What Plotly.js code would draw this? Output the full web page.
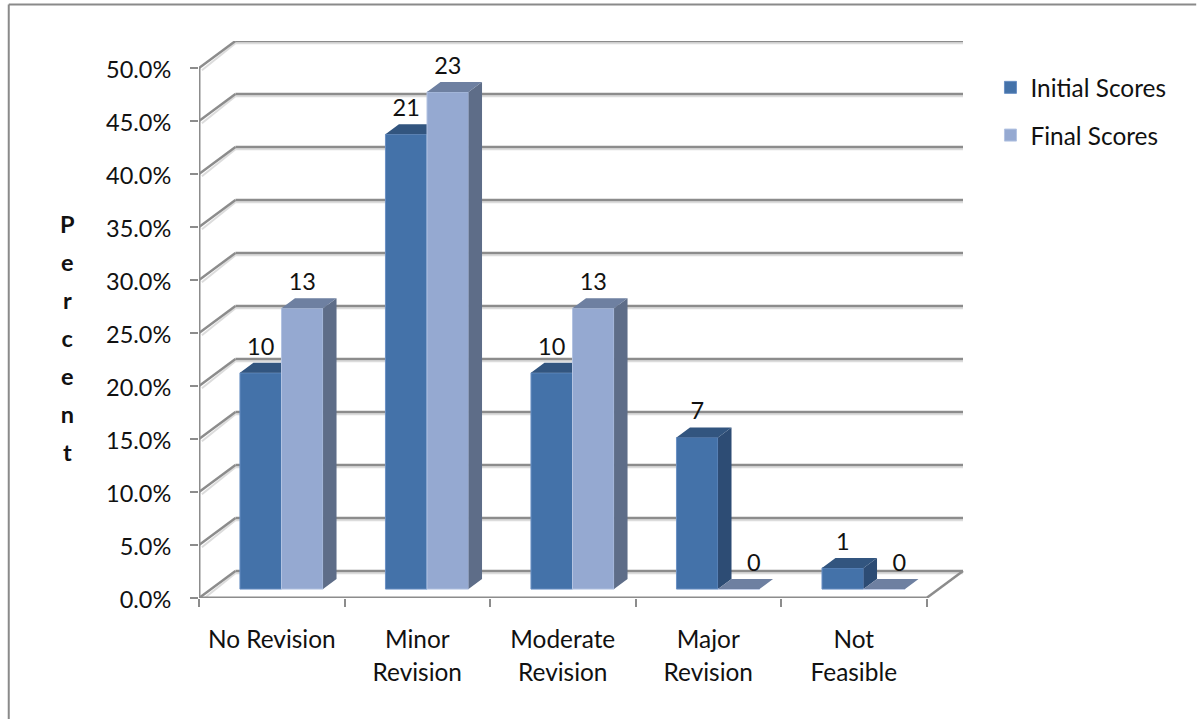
<!DOCTYPE html>
<html>
<head>
<meta charset="utf-8">
<script src="https://cdn.plot.ly/plotly-3.0.1.min.js"></script>
<style>html,body{margin:0;padding:0;background:#fff;overflow:hidden}#chart{width:1197px;height:719px}</style>
</head>
<body>
<div id="chart"></div>
<script>
const categories = ['No Revision', 'Minor<br>Revision', 'Moderate<br>Revision', 'Major<br>Revision', 'Not<br>Feasible'];
const seriesNames = ['Initial Scores', 'Final Scores'];
const initialPercent = [20.4, 42.9, 20.4, 14.3, 2.0];
const finalPercent = [26.5, 46.9, 26.5, 0, 0];
const initialCounts = [10, 21, 10, 7, 1];
const finalCounts = [13, 23, 13, 0, 0];
const yTicks = [0, 5, 10, 15, 20, 25, 30, 35, 40, 45, 50];
const axisTitleLetters = ['P', 'e', 'r', 'c', 'e', 'n', 't'];

const FONT = 'Lato, Carlito, sans-serif';
const FS = 23.5, FS_CAT = 24.4;
const W = 1197, H = 719, L = 198.5, R = 964.5, T = 41, B = 598;
const pxX = 728.5 / categories.length, pxY = 530 / 50;
const depthX = 36.5 / pxX, depthY = 27 / pxY;
const xRange = [0, (R - L) / pxX], yRange = [0, (B - T) / pxY];
const frontD = 0.33, backD = 0.70;
const barW = 41.6 / pxX, barStart = 0.2814;
const gridC = '#8c8c8c', shadowC = '#dcdcdc';

function paperX(p) { return (p - L) / (R - L); }
function paperY(p) { return (B - p) / (B - T); }

function faces(values, slot) {
  const top = { x: [], y: [] }, side = { x: [], y: [] };
  values.forEach((v, i) => {
    const x0 = i + barStart + slot * barW, x1 = x0 + barW;
    const y0 = frontD * depthY, yf = y0 + v, ox = (backD - frontD) * depthX, oy = (backD - frontD) * depthY;
    top.x.push(x0, x1, x1 + ox, x0 + ox, x0, null);
    top.y.push(yf, yf, yf + oy, yf + oy, yf, null);
    side.x.push(x1, x1 + ox, x1 + ox, x1, x1, null);
    side.y.push(y0, y0 + oy, yf + oy, yf, y0, null);
  });
  return { top, side };
}

function seriesTraces(values, counts, slot, name, colors, xa, ya) {
  const f = faces(values, slot);
  const common = { xaxis: xa, yaxis: ya, hoverinfo: 'skip', showlegend: false };
  const xs = values.map((v, i) => i + barStart + (slot + 0.5) * barW);
  return [
    { type: 'bar', name, x: xs, y: values, base: values.map(() => frontD * depthY), width: barW,
      marker: { color: colors.front, line: { color: colors.edge, width: 1 } },
      xaxis: xa, yaxis: ya, hoverinfo: 'skip', legendgroup: name, showlegend: true },
    Object.assign({ type: 'scatter', mode: 'lines', fill: 'toself', x: f.side.x, y: f.side.y,
      fillcolor: colors.side, line: { width: 0 } }, common),
    Object.assign({ type: 'scatter', mode: 'lines', fill: 'toself', x: f.top.x, y: f.top.y,
      fillcolor: colors.top, line: { width: 0 } }, common),
    Object.assign({ type: 'scatter', mode: 'text',
      x: xs.map((x, i) => x + (values[i] === 0 ? 15 / pxX : 0)),
      y: values.map(v => frontD * depthY + v + 24 / pxY),
      text: counts.map(String), textposition: 'middle center',
      textfont: { family: FONT, size: FS, color: '#111' } }, common)
  ];
}

const traces = [].concat(
  seriesTraces(initialPercent, initialCounts, 0, seriesNames[0],
    { front: '#4472a9', edge: '#6a90c4', side: '#2d4c74', top: '#32557f' }, 'x', 'y'),
  seriesTraces(finalPercent, finalCounts, 1, seriesNames[1],
    { front: '#95a9d1', edge: '#b3c3e2', side: '#5e6d88', top: '#6e80a1' }, 'x2', 'y2')
);

const shapes = [];
function seg(x0, y0, x1, y1, color, width) {
  shapes.push({ type: 'line', xref: 'x', yref: 'y', layer: 'below', x0, y0, x1, y1, line: { color, width } });
}
const shadow = 2.2 / pxY;
yTicks.forEach(t => {
  seg(depthX, t + depthY - shadow, 5 + depthX, t + depthY - shadow, shadowC, 2);
  seg(0.02, t - shadow, depthX, t + depthY - shadow, shadowC, 2);
});
yTicks.forEach(t => {
  seg(depthX, t + depthY, 5 + depthX, t + depthY, gridC, 2.5);
  seg(0, t, depthX, t + depthY, gridC, 2.5);
});
seg(5, 0, 5 + depthX, depthY, gridC, 2.5);
seg(0, 0, 0, 50, gridC, 3);
seg(0, 0, 5, 0, gridC, 3);

function pline(x0, y0, x1, y1) {
  shapes.push({ type: 'line', xref: 'paper', yref: 'paper', layer: 'below',
    x0: paperX(x0), y0: paperY(y0), x1: paperX(x1), y1: paperY(y1), line: { color: '#8a8a8a', width: 2 } });
}
pline(8, 4.5, 1197, 4.5);
pline(8, 4.5, 8, 719);

const layout = {
  width: W, height: H, paper_bgcolor: '#fff', plot_bgcolor: 'rgba(0,0,0,0)',
  margin: { l: L, r: W - R, t: T, b: H - B, pad: 0 },
  barmode: 'overlay', bargap: 0, showlegend: true,
  font: { family: FONT, color: '#111', size: FS },
  xaxis: { range: xRange, fixedrange: true, showgrid: false, zeroline: false, showline: false,
    tickmode: 'array', tickvals: categories.map((c, i) => i + 0.5),
    ticktext: categories.map(c => c.split('<br>').map(s => '<span style="font-size:' + FS_CAT + 'px">' + s + '</span>').join('<br>')),
    ticks: '', tickfont: { family: FONT, size: 25.4, color: '#111' }, ticklabelstandoff: 24, tickangle: 0,
    minor: { tickmode: 'array', tickvals: [0, 1, 2, 3, 4, 5], ticks: 'outside', ticklen: 8, tickwidth: 2, tickcolor: gridC, showgrid: false } },
  yaxis: { range: yRange, fixedrange: true, showgrid: false, zeroline: false, showline: false,
    tickmode: 'array', tickvals: yTicks, ticktext: yTicks.map(t => t.toFixed(1) + '%'),
    ticks: 'outside', ticklen: 8, tickwidth: 2, tickcolor: gridC, ticklabelstandoff: 14, ticklabelshift: 2,
    tickfont: { family: FONT, size: FS, color: '#111' } },
  xaxis2: { overlaying: 'x', anchor: 'y2', range: xRange, visible: false, fixedrange: true },
  yaxis2: { overlaying: 'y', anchor: 'x2', range: yRange, visible: false, fixedrange: true },
  legend: { x: paperX(991), y: paperY(65), xanchor: 'left', yanchor: 'top', bgcolor: 'rgba(0,0,0,0)',
    traceorder: 'grouped', tracegroupgap: 13, font: { family: FONT, size: FS_CAT, color: '#111' } },
  shapes,
  annotations: [{
    xref: 'paper', yref: 'paper', x: paperX(67), y: paperY(338), xanchor: 'center', yanchor: 'middle',
    showarrow: false, align: 'center', font: { family: FONT, size: 29.2, color: '#111' },
    text: axisTitleLetters.map(c => '<span style="font-size:' + FS + 'px"><b>' + c + '</b></span>').join('<br>')
  }]
};

Plotly.newPlot('chart', traces, layout, { displayModeBar: false, staticPlot: true });
</script>
</body>
</html>
